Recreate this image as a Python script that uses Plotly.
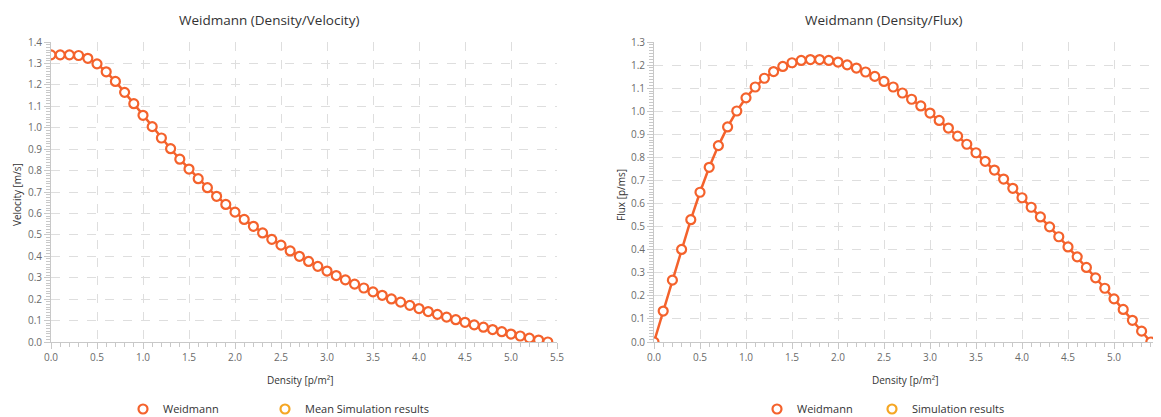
import plotly.graph_objects as go

density = [0.0, 0.1, 0.2, 0.3, 0.4, 0.5, 0.6, 0.7, 0.8, 0.9, 1.0, 1.1, 1.2, 1.3, 1.4, 1.5, 1.6, 1.7, 1.8, 1.9,
           2.0, 2.1, 2.2, 2.3, 2.4, 2.5, 2.6, 2.7, 2.8, 2.9, 3.0, 3.1, 3.2, 3.3, 3.4, 3.5, 3.6, 3.7, 3.8, 3.9,
           4.0, 4.1, 4.2, 4.3, 4.4, 4.5, 4.6, 4.7, 4.8, 4.9, 5.0, 5.1, 5.2, 5.3, 5.4]

velocity = [1.340, 1.340, 1.340, 1.337, 1.324, 1.298, 1.261, 1.216, 1.165, 1.112, 1.058, 1.005, 0.952, 0.902,
            0.853, 0.807, 0.762, 0.720, 0.680, 0.642, 0.606, 0.572, 0.540, 0.509, 0.479, 0.452, 0.425, 0.400,
            0.376, 0.353, 0.331, 0.310, 0.290, 0.270, 0.252, 0.234, 0.218, 0.201, 0.186, 0.171, 0.156, 0.142,
            0.129, 0.116, 0.104, 0.092, 0.080, 0.069, 0.058, 0.048, 0.037, 0.028, 0.018, 0.009, 0.000]

flux = [0.000, 0.134, 0.268, 0.401, 0.530, 0.649, 0.757, 0.851, 0.932, 1.001, 1.058, 1.105, 1.143, 1.172,
        1.194, 1.210, 1.220, 1.224, 1.224, 1.220, 1.213, 1.201, 1.187, 1.170, 1.151, 1.129, 1.105, 1.079,
        1.052, 1.023, 0.992, 0.960, 0.927, 0.892, 0.857, 0.820, 0.783, 0.745, 0.706, 0.666, 0.625, 0.584,
        0.542, 0.499, 0.456, 0.412, 0.369, 0.323, 0.278, 0.233, 0.187, 0.141, 0.094, 0.047, 0.000]

left_legend = ["Weidmann", "Mean Simulation results"]
right_legend = ["Weidmann", "Simulation results"]

OFF = 8  # page body margin
W, H = 1161 - OFF, 417
ORANGE = "#F4622C"
YELLOW = "#F5A623"
FONT = "Open Sans, Segoe UI, sans-serif"

def px_x(p):
    return (p - OFF) / W

def px_y(p):
    return 1 - (p - OFF) / H

fig = go.Figure()

marker_style = dict(symbol="circle", size=9, color="white", line=dict(color=ORANGE, width=2.2))
fig.add_trace(go.Scatter(x=density, y=velocity, mode="lines+markers", xaxis="x", yaxis="y",
                         line=dict(color=ORANGE, width=2.5), marker=marker_style, showlegend=False))
fig.add_trace(go.Scatter(x=density, y=flux, mode="lines+markers", xaxis="x2", yaxis="y2",
                         line=dict(color=ORANGE, width=2.5), marker=marker_style, showlegend=False))

# legend entries: (name, colour, legend id, axes, circle x in reference px)
entries = [(left_legend[0], ORANGE, "legend", ("x", "y"), 148),
           (left_legend[1], YELLOW, "legend2", ("x", "y"), 290),
           (right_legend[0], ORANGE, "legend3", ("x2", "y2"), 782),
           (right_legend[1], YELLOW, "legend4", ("x2", "y2"), 897)]
legend_layouts = {}
for name, col, leg, ax, cx in entries:
    fig.add_trace(go.Scatter(x=[None], y=[None], mode="markers", name=name, legend=leg,
                             xaxis=ax[0], yaxis=ax[1],
                             marker=dict(symbol="circle", size=9, color="white", line=dict(color=col, width=2.2))))
    legend_layouts[leg] = dict(orientation="h", x=px_x(cx - 25), y=px_y(409), xanchor="left",
                               yanchor="middle", font=dict(family=FONT, size=11, color="#333333"),
                               itemclick=False, itemdoubleclick=False, bgcolor="rgba(0,0,0,0)")

ydom = [px_y(342), px_y(42)]
common_x = dict(range=[0, 5.5], dtick=0.5, tick0=0, tickformat=".1f", showgrid=True, gridcolor="#dedede",
                griddash="dash", gridwidth=1, zeroline=False, showline=True, linecolor="#c8c8c8", linewidth=1,
                ticks="outside", ticklen=6, tickcolor="#c8c8c8",
                tickfont=dict(family=FONT, size=10, color="#6a6a6a"),
                minor=dict(dtick=0.1, ticks="outside", ticklen=4, tickcolor="#c8c8c8", showgrid=False),
                fixedrange=True, automargin=False)
common_y = dict(dtick=0.1, tick0=0, tickformat=".1f", showgrid=True, gridcolor="#dedede",
                griddash="dash", gridwidth=1, zeroline=False, showline=True, linecolor="#c8c8c8", linewidth=1,
                ticks="outside", ticklen=6, tickcolor="#c8c8c8",
                tickfont=dict(family=FONT, size=10, color="#6a6a6a"),
                minor=dict(dtick=0.0125, ticks="outside", ticklen=4, tickcolor="#c8c8c8", showgrid=False),
                fixedrange=True, automargin=False)

fig.update_layout(
    width=W, height=H,
    margin=dict(l=0, r=0, t=0, b=0),
    paper_bgcolor="white", plot_bgcolor="white",
    font=dict(family=FONT, color="#333333"),
    xaxis=dict(domain=[px_x(51), px_x(557)], anchor="y", **common_x),
    yaxis=dict(domain=ydom, anchor="x", range=[0, 1.4], **common_y),
    xaxis2=dict(domain=[px_x(654), px_x(1160)], anchor="y2", **common_x),
    yaxis2=dict(domain=ydom, anchor="x2", range=[0, 1.3], **common_y),
    **legend_layouts,
)

annotations = [
    dict(text="Weidmann (Density/Velocity)", x=px_x(269), y=px_y(20), font=dict(size=13.5, color="#333333")),
    dict(text="Weidmann (Density/Flux)", x=px_x(884), y=px_y(20), font=dict(size=13.5, color="#333333")),
    dict(text="Density [p/m²]", x=px_x(300), y=px_y(380), font=dict(size=10, color="#333333")),
    dict(text="Density [p/m²]", x=px_x(905), y=px_y(380), font=dict(size=10, color="#333333")),
    dict(text="Velocity [m/s]", x=px_x(17), y=px_y(195), textangle=-90, font=dict(size=10, color="#333333")),
    dict(text="Flux [p/ms]", x=px_x(621), y=px_y(195), textangle=-90, font=dict(size=10, color="#333333")),
]
for a in annotations:
    a.update(xref="paper", yref="paper", showarrow=False, xanchor="center", yanchor="middle")
    a["font"]["family"] = FONT
fig.update_layout(annotations=annotations)

fig.write_html("out.html")
